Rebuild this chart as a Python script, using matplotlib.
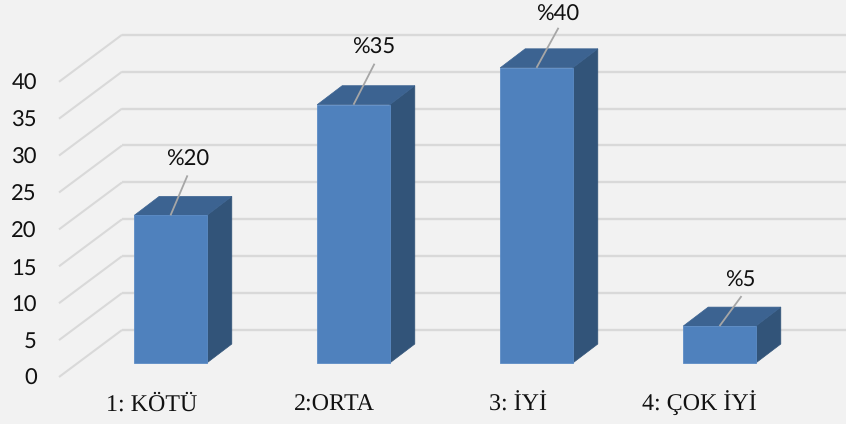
import matplotlib
matplotlib.use("Agg")
import matplotlib.pyplot as plt
from matplotlib.patches import Polygon

plt.rcParams["text.hinting"] = "no_hinting"
plt.rcParams["text.hinting_factor"] = 1

categories = ["1: KÖTÜ", "2:ORTA", "3: İYİ", "4: ÇOK İYİ"]
values = [20, 35, 40, 5]
labels = ["%20", "%35", "%40", "%5"]
yticks = [0, 5, 10, 15, 20, 25, 30, 35, 40]

W, H = 846, 424
BG = "#f2f2f2"
FRONT, TOP, SIDE = "#4f81bd", "#3c6391", "#325479"
GRID = "#d9d9d9"

PX_PER_UNIT = 7.38
X0, STEP = 170.5, 183.0      # pixel centre of first category, spacing
Y0 = 363.0                   # pixel of value 0 on bar front plane
HALF = 36.3                  # half bar width, px
DDX, DDY = 25.0, -19.0       # bar depth in px

# per-bar annotation layout, px relative to the bar top centre
leader_dx = [17, 21, 22, 22]
leader_dy = [40, 41, 40, 30]
label_dx = [17, 20, 21, 21]
label_dy = [56, 57, 53, 46]
cat_x_px = [152, 334, 518, 699]

fig = plt.figure(figsize=(W / 100, H / 100), dpi=100, facecolor=BG)
ax = fig.add_axes([0, 0, 1, 1], facecolor=BG)
ax.set_xlim(-X0 / STEP, (W - X0) / STEP)
ax.set_ylim((Y0 - H) / PX_PER_UNIT, Y0 / PX_PER_UNIT)
ax.axis("off")

sx = 1 / STEP
sy = 1 / PX_PER_UNIT

left_front_x = (59 - X0) * sx
left_back_x = (122 - X0) * sx
right_x = (846 - X0) * sx
floor_front = (363 - 377) * sy
floor_back = (363 - 330) * sy

for t in yticks:
    ax.plot([left_front_x, left_back_x], [t + floor_front, t + floor_back],
            color=GRID, lw=1.5, zorder=1, solid_capstyle="butt")
    ax.plot([left_back_x, right_x], [t + floor_back, t + floor_back],
            color=GRID, lw=1.7, zorder=1, solid_capstyle="butt")
    ax.text((37 - X0) * sx, t + floor_front - 2 * sy, str(t), ha="right",
            va="center", fontsize=15.5, family="Lato", color="#111111", zorder=5)

for i, (v, lab, cat) in enumerate(zip(values, labels, categories)):
    l, r = i - HALF * sx, i + HALF * sx
    dx, dy = DDX * sx, -DDY * sy
    ax.add_patch(Polygon([(r, 0), (r + dx, dy), (r + dx, v + dy), (r, v)],
                         fc=SIDE, ec=SIDE, lw=0.5, zorder=3))
    ax.add_patch(Polygon([(l, v), (r, v), (r + dx, v + dy), (l + dx, v + dy)],
                         fc=TOP, ec=TOP, lw=0.5, zorder=3))
    ax.bar(i, v, width=2 * HALF * sx, color=FRONT, edgecolor="#5c8cc6", lw=0.6, zorder=4)
    ax.plot([i, i + leader_dx[i] * sx], [v, v + leader_dy[i] * sy], color="#a6a6a6",
            lw=1.3, zorder=5, solid_capstyle="butt")
    ax.text(i + label_dx[i] * sx, v + label_dy[i] * sy, lab, ha="center", va="center",
            fontsize=15.5, family="Lato", color="#111111", zorder=6)
    ax.text((cat_x_px[i] - X0) * sx, (363 - 411) * sy, cat, ha="center", va="baseline",
            fontsize=17.3, family="Liberation Serif", color="#111111", zorder=6)

fig.savefig("out.png", dpi=100, facecolor=BG)
